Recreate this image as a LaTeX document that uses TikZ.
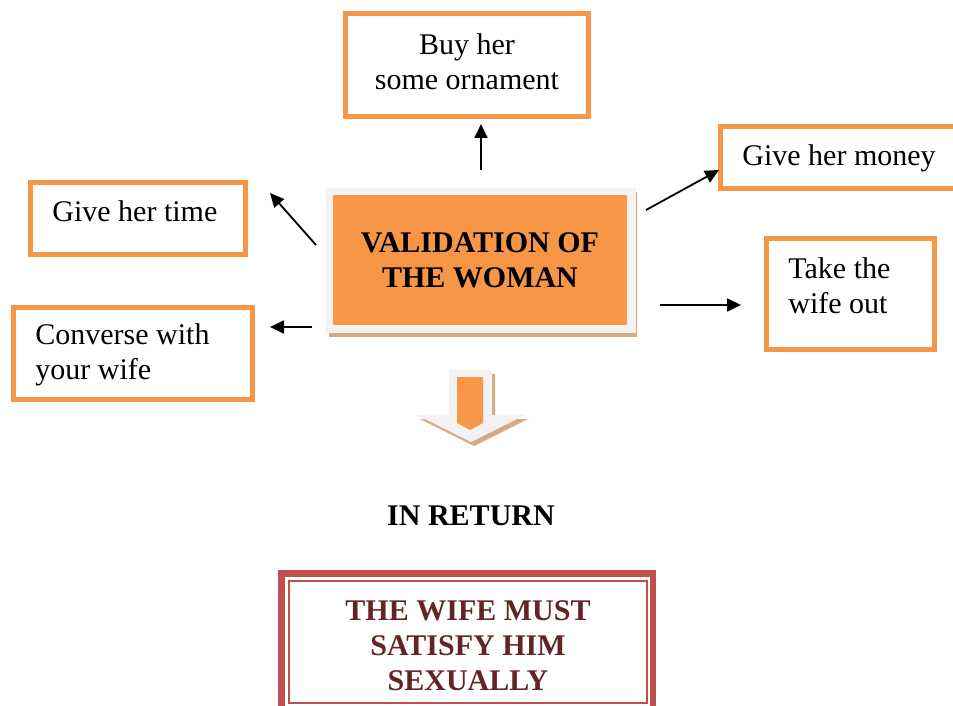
\documentclass[tikz,border=0pt]{standalone}
\usepackage{fontspec}
\setmainfont{Liberation Serif}
\usepackage{tikz}
\usetikzlibrary{arrows.meta}
\definecolor{boxorange}{HTML}{F79646}
\definecolor{shadowtan}{RGB}{214,170,130}
\definecolor{panelgray}{HTML}{F2F2F2}
\definecolor{framered}{HTML}{C0504D}
\definecolor{textred}{HTML}{632423}
\def\boxline{2.5pt}

\begin{document}
\begin{tikzpicture}[x=0.5pt,y=-0.5pt,>={Triangle[length=7pt,width=6.5pt]}]
    \tikzstyle{every node}=[font=\fontsize{15}{17.5}\selectfont]
    \tikzstyle{choice}=[draw=boxorange,line width=\boxline,inner sep=0pt,outer sep=0pt]
    \tikzstyle{caption}=[inner sep=0pt,align=left]
    \tikzstyle{link}=[->,line width=0.9pt,black]

    \useasboundingbox (0,0) rectangle (953,706);

    % Draw the centre box with its shadow
    \fill[shadowtan] (329,192) rectangle (637,337);
    \node[fill=panelgray,minimum width=155pt,minimum height=72.5pt,inner sep=0pt] (valback) at (481,260.5) {};
    \node[fill=boxorange,minimum width=147pt,minimum height=65pt,inner sep=0pt,align=center,
          font=\fontsize{15}{17.5}\selectfont\bfseries] (val) at (480,260) {VALIDATION OF\\THE WOMAN};

    % Draw the boxes round it
    \node[choice,minimum width=121.5pt,minimum height=51.5pt] (buy) at (467,65) {};
    \node[choice,minimum width=118.75pt,minimum height=31pt] (money) at (839.25,157.5) {};
    \node[choice,minimum width=107.5pt,minimum height=36pt] (time) at (138,218.5) {};
    \node[choice,minimum width=119.5pt,minimum height=46pt] (conv) at (133,353.5) {};
    \node[choice,minimum width=84pt,minimum height=55.5pt] (take) at (850.5,294) {};

    \node[caption,align=center] (buy-t) at (467,62) {Buy her\\some ornament};
    \node[caption,anchor=west] (money-t) at (742,158) {Give her money};
    \node[caption,anchor=west] (time-t) at (52,211) {Give her time};
    \node[caption,anchor=west] (conv-t) at (35,355) {Converse with\\your wife};
    \node[caption,anchor=west] (take-t) at (788,286) {Take the\\wife out};

    % Arrow ends
    \coordinate (up-s) at (481,170);    \coordinate (up-e) at (481,124);
    \coordinate (ul-s) at (316,245);    \coordinate (ul-e) at (270,193);
    \coordinate (ur-s) at (646,210);    \coordinate (ur-e) at (719,170);
    \coordinate (r-s) at (660,305);     \coordinate (r-e) at (741,305);
    \coordinate (l-s) at (312,327);     \coordinate (l-e) at (270,327);

    \draw[link] (up-s) -- (up-e);
    \draw[link] (ul-s) -- (ul-e);
    \draw[link] (ur-s) -- (ur-e);
    \draw[link] (r-s) -- (r-e);
    \draw[link] (l-s) -- (l-e);

    % The block arrow down
    \fill[shadowtan] (452,374) -- (495,374) -- (495,419) -- (528,419) -- (474,446) -- (420,419) -- (452,419) -- cycle;
    \fill[panelgray] (449,370) -- (492,370) -- (492,415) -- (525,415) -- (471,442) -- (417,415) -- (449,415) -- cycle;
    \fill[boxorange] (457,377) -- (483,377) -- (483,423) -- (470,430) -- (457,423) -- cycle;

    \node[font=\fontsize{15}{17.5}\selectfont\bfseries] (inret) at (471,516) {IN RETURN};

    % Bottom frame
    \node[draw=framered,line width=3.25pt,minimum width=185.75pt,minimum height=71.25pt,inner sep=0pt] (frame) at (467.25,644.75) {};
    \node[draw=framered,line width=0.75pt,minimum width=179pt,minimum height=61pt,inner sep=0pt] (inner) at (468,642) {};
    \node[align=center,text=textred,inner sep=0pt,
          font=\fontsize{15}{17.5}\selectfont\bfseries] (result) at (468,646) {THE WIFE MUST\\SATISFY HIM\\SEXUALLY};
\end{tikzpicture}
\end{document}
